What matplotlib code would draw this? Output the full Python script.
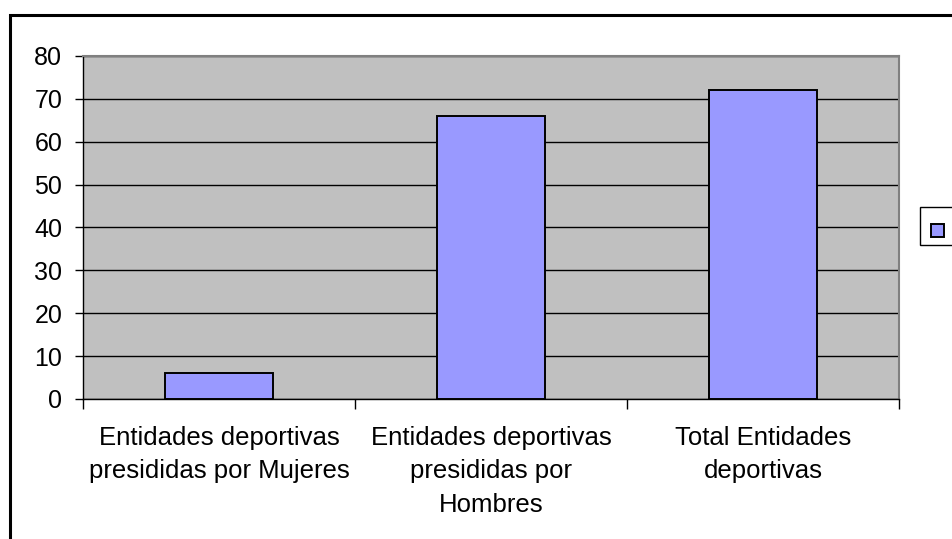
import matplotlib
matplotlib.use("Agg")
import matplotlib.pyplot as plt
from matplotlib.patches import Rectangle

categories = [
    "Entidades deportivas\npresididas por Mujeres",
    "Entidades deportivas\npresididas por\nHombres",
    "Total Entidades\ndeportivas",
]
values = [6, 66, 72]
yticks = [0, 10, 20, 30, 40, 50, 60, 70, 80]

plt.rcParams["font.family"] = ["Liberation Sans", "DejaVu Sans"]

W, H = 952, 539
fig = plt.figure(figsize=(W / 100, H / 100), dpi=100)
fig.patch.set_facecolor("white")

# chart frame
fig.patches.append(Rectangle((10 / W, -0.05), 1.0, (H - 15) / H + 0.05,
                             transform=fig.transFigure, fill=False,
                             edgecolor="black", linewidth=2.2, zorder=0))

left, right, top, bottom = 83, 899, 56, 399
ax = fig.add_axes([left / W, 1 - bottom / H, (right - left) / W, (bottom - top) / H])
ax.set_facecolor("#C0C0C0")

x = list(range(len(values)))
ax.bar(x, values, width=0.4, color="#9999FF", edgecolor="black", linewidth=1.4, zorder=3)

ax.set_xlim(-0.5, len(values) - 0.5)
ax.set_ylim(0, 80)
ax.set_yticks(yticks)
ax.set_yticklabels([str(v) for v in yticks], fontsize=18)
ax.yaxis.grid(True, color="black", linewidth=1.0, zorder=1)
ax.set_axisbelow(True)

# category boundary ticks
ax.set_xticks([i - 0.5 for i in range(len(values) + 1)])
ax.set_xticklabels([])
ax.tick_params(axis="x", length=7, width=1, color="black", direction="out")
ax.tick_params(axis="y", length=6, width=1, color="black", direction="out", pad=9)
for i, lab in enumerate(categories):
    ax.text(i, -6.2, lab, ha="center", va="top", fontsize=18.5, linespacing=1.5,
            transform=ax.transData)

for s in ["top", "right"]:
    ax.spines[s].set_color("#808080")
    ax.spines[s].set_linewidth(1.5)
for s in ["left", "bottom"]:
    ax.spines[s].set_color("black")
    ax.spines[s].set_linewidth(1.0)

# legend box with a single swatch
fig.patches.append(Rectangle((920 / W, 1 - 245 / H), 40 / W, 38 / H,
                             transform=fig.transFigure, facecolor="white",
                             edgecolor="black", linewidth=1.0, zorder=2))
fig.patches.append(Rectangle((931 / W, 1 - 237 / H), 13 / W, 13 / H,
                             transform=fig.transFigure, facecolor="#9999FF",
                             edgecolor="black", linewidth=1.4, zorder=3))

fig.savefig("out.png", dpi=100)
